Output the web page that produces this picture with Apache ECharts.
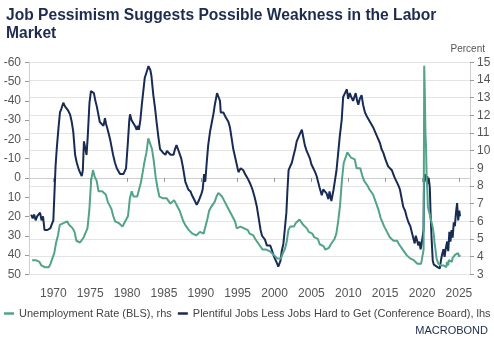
<!DOCTYPE html>
<html><head><meta charset="utf-8">
<script src="https://cdn.jsdelivr.net/npm/echarts@6/dist/echarts.min.js"></script>
<style>html,body{margin:0;padding:0;background:#fff}#c{width:494px;height:342px}</style>
</head><body><div id="c"></div>
<script>
// Tick labels
const yearTicks = [1970,1975,1980,1985,1990,1995,2000,2005,2010,2015,2020,2025];
// Unemployment rate (BLS), %, quarterly 1967Q1..2019Q4
const unempQuarterly = [
3.8,3.8,3.8,3.9, 3.7,3.5,3.5,3.4, 3.4,3.4,3.6,3.6, 4.2,4.8,5.2,5.8,
5.9,5.9,6.0,6.0, 5.8,5.7,5.6,5.4, 4.9,4.9,4.8,4.8, 5.1,5.2,5.6,6.6,
8.3,8.9,8.5,8.3, 7.7,7.6,7.7,7.8, 7.5,7.1,6.9,6.7, 6.3,6.0,6.0,5.9,
5.9,5.7,5.9,6.0, 6.3,7.3,7.7,7.4, 7.4,7.4,7.4,8.2, 8.8,9.4,9.9,10.7,
10.4,10.1,9.4,8.5, 7.9,7.4,7.4,7.3, 7.3,7.3,7.2,7.0, 7.0,7.2,7.0,6.8,
6.6,6.3,6.0,5.8, 5.7,5.5,5.5,5.3, 5.2,5.2,5.3,5.4, 5.3,5.3,5.7,6.1,
6.6,6.8,6.9,7.1, 7.4,7.6,7.6,7.4, 7.2,7.1,6.8,6.6, 6.6,6.2,6.0,5.6,
5.5,5.7,5.7,5.6, 5.5,5.5,5.3,5.3, 5.2,5.0,4.9,4.7, 4.6,4.4,4.5,4.4,
4.3,4.3,4.2,4.1, 4.0,3.9,4.0,3.9, 4.2,4.4,4.8,5.5, 5.7,5.8,5.7,5.9,
5.9,6.1,6.1,5.8, 5.7,5.6,5.4,5.4, 5.3,5.1,5.0,5.0, 4.7,4.6,4.6,4.4,
4.5,4.5,4.7,4.8, 5.0,5.3,6.0,6.9, 8.3,9.3,9.6,9.9, 9.8,9.6,9.5,9.5,
9.0,9.1,9.0,8.6, 8.3,8.2,8.0,7.8, 7.7,7.5,7.2,6.9, 6.6,6.2,6.1,5.7,
5.5,5.4,5.1,5.0, 4.9,4.9,4.9,4.7, 4.6,4.4,4.3,4.1, 4.0,3.9,3.8,3.8,
3.9,3.6,3.6,3.6
];
// Unemployment rate, monthly 2020-01 onwards
const unempMonthly = [
3.6,3.5,4.4,14.8,13.2,11.0,10.2,8.4,7.8,6.8,6.7,6.7,
6.4,6.2,6.1,6.1,5.8,5.9,5.4,5.1,4.7,4.5,4.2,3.9,
4.0,3.8,3.6,3.7,3.6,3.6,3.5,3.6,3.5,3.6,3.6,3.5,
3.5,3.6,3.5,3.4,3.7,3.6,3.5,3.8,3.8,3.9,3.7,3.7,
3.7,3.9,3.9,3.9,4.0,4.1,4.2,4.2,4.1,4.1,4.2,4.1,
4.0,4.1
];
// Plentiful jobs less jobs hard to get (Conference Board)
const diffYears = [
1967.0,1967.2,1967.4,1967.6,1967.8,1968.0,1968.2,1968.4,1968.6,1968.8,1969.0,1969.2,1969.4,1969.6,1969.8,
1970.0,1970.15,1970.3,1970.46,1970.7,1970.9,1971.1,1971.35,1971.6,1971.8,1972.0,1972.26,1972.5,1972.7,1972.95,
1973.17,1973.4,1973.6,1973.85,1974.0,1974.15,1974.3,1974.5,1974.66,1974.9,1975.1,1975.3,1975.5,1975.7,1975.9,
1976.1,1976.3,1976.55,1976.8,1977.0,1977.15,1977.3,1977.5,1977.7,1977.9,1978.1,1978.35,1978.6,1978.8,1979.04,
1979.3,1979.5,1979.7,1979.86,1980.1,1980.3,1980.4,1980.6,1980.85,1981.08,1981.3,1981.45,1981.6,1981.8,1982.0,
1982.2,1982.4,1982.65,1982.9,1983.0,1983.15,1983.3,1983.56,1983.8,1984.0,1984.25,1984.47,1984.7,1984.9,1985.2,
1985.4,1985.6,1985.9,1986.1,1986.3,1986.5,1986.7,1986.9,1987.1,1987.35,1987.6,1987.9,1988.1,1988.3,1988.6,
1988.8,1989.0,1989.2,1989.44,1989.7,1989.9,1990.1,1990.25,1990.45,1990.6,1990.8,1991.0,1991.25,1991.5,1991.7,
1991.9,1992.2,1992.4,1992.6,1992.7,1993.05,1993.3,1993.5,1993.75,1993.96,1994.2,1994.4,1994.75,1995.1,1995.4,
1995.76,1996.0,1996.2,1996.45,1996.7,1997.0,1997.3,1997.6,1997.85,1998.1,1998.3,1998.5,1998.7,1998.95,1999.2,
1999.4,1999.6,1999.85,2000.06,2000.3,2000.5,2000.65,2000.8,2000.97,2001.2,2001.4,2001.6,2001.75,2001.9,2002.1,
2002.35,2002.6,2002.8,2003.0,2003.2,2003.45,2003.7,2003.9,2004.1,2004.35,2004.6,2004.8,2005.0,2005.25,2005.5,
2005.7,2005.9,2006.1,2006.4,2006.6,2006.8,2007.05,2007.3,2007.45,2007.7,2007.85,2008.0,2008.2,2008.4,2008.6,
2008.85,2009.1,2009.3,2009.55,2009.8,2009.98,2010.2,2010.4,2010.65,2010.85,2011.0,2011.2,2011.35,2011.55,2011.8,
2012.0,2012.26,2012.5,2012.7,2012.95,2013.2,2013.4,2013.6,2013.85,2014.1,2014.3,2014.5,2014.75,2015.0,2015.2,
2015.4,2015.65,2015.9,2016.1,2016.3,2016.55,2016.8,2017.0,2017.2,2017.45,2017.7,2017.9,2018.15,2018.4,2018.6,
2018.8,2019.0,2019.15,2019.3,2019.5,2019.65,2019.8,2019.95,2020.1,2020.2,2020.28,2020.4,2020.5,2020.6,2020.7,
2020.8,2020.9,2021.05,2021.15,2021.3,2021.45,2021.6,2021.8,2022.0,2022.2,2022.4,2022.55,2022.7,2022.9,2023.05,
2023.2,2023.4,2023.55,2023.7,2023.85,2024.0,2024.15,2024.3,2024.45,2024.6,2024.75,2024.9,2025.05,2025.15
];
const diffValues = [
19,21,19,22,20,21,18,22,20,27,28,27,28,26,24,
22,8,-6,-15,-26,-34,-36,-39,-37,-36,-35,-33,-29,-24,-12,
-8,-5,-3,-1,-4,-19,-16,-12,-21,-39,-45,-46,-44,-40,-37,
-33,-29,-28,-27,-31,-28,-26,-23,-20,-16,-12,-8,-5,-4,-2,
-1,-2,-1,-5,-18,-30,-33,-30,-31,-27,-25,-27,-25,-30,-38,
-45,-52,-55,-58,-58,-56,-53,-43,-36,-29,-21,-15,-14,-13,-12,
-14,-13,-12,-13,-12,-15,-17,-15,-14,-10,-5,2,4,6,7,
9,10,12,14,12,11,8,6,-2,2,-8,-17,-24,-29,-33,
-38,-44,-42,-40,-34,-34,-32,-32,-29,-26,-20,-15,-9,-3,-5,
-4,-2,-1,1,3,6,10,15,21,27,30,31,32,35,36,
35,37,40,42,44,46,47,43,38,34,26,18,6,-4,-5,
-8,-12,-15,-19,-20,-23,-25,-21,-17,-14,-13,-10,-7,-5,-3,
-1,2,5,9,6,5,8,11,7,12,9,6,1,-4,-12,
-22,-30,-42,-44,-46,-41,-44,-42,-40,-41,-44,-40,-38,-41,-43,
-38,-34,-32,-31,-29,-28,-26,-25,-22,-21,-18,-15,-13,-10,-8,
-6,-5,-4,-2,0,1,4,6,10,15,17,20,23,25,28,
31,34,30,30,35,33,37,34,33,27,-2,1,-2,2,-1,
3,0,5,18,32,43,45,44,46,45,47,43,40,37,41,
37,33,38,28,33,27,31,23,25,18,13,22,17,20
];

const unempData = [];
unempQuarterly.forEach((v,i)=>unempData.push([1967 + Math.floor(i/4) + ((i%4)+0.5)/4, v]));
unempMonthly.forEach((v,i)=>unempData.push([2020 + Math.floor(i/12) + ((i%12)+0.5)/12, v]));
const diffData = diffYears.map((y,i)=>[y, diffValues[i]]);

const TEAL = '#52a38a', NAVY = '#172b55';
const FONT = 'Liberation Sans, Arial, sans-serif';
const chart = echarts.init(document.getElementById('c'), null, {renderer:'canvas'});
chart.setOption({
  animation:false,
  textStyle:{fontFamily:FONT},
  grid:{left:29, right:24, top:62.3, height:212},
  graphic:[
    {type:'text', left:6, top:6, style:{text:'Job Pessimism Suggests Possible Weakness in the Labor\nMarket', font:'bold 15.6px '+FONT, fill:'#1c2b4f', lineHeight:18.5}},
    {type:'text', right:9, top:44, style:{text:'Percent', font:'10px '+FONT, fill:'#555'}},
    {type:'text', right:6, top:325, style:{text:'MACROBOND', font:'11px '+FONT, fill:'#1c2b4f'}}
  ],
  legend:{
    left:4, top:308, width:490, itemGap:6, itemWidth:10, itemHeight:2.5, padding:[0,0,0,0],
    textStyle:{fontSize:11, color:'#444', fontFamily:FONT},
    data:[{name:'Unemployment Rate (BLS), rhs', icon:'rect'},{name:'Plentiful Jobs Less Jobs Hard to Get (Conference Board), lhs', icon:'rect'}]
  },
  xAxis:{
    type:'value', min:1966.7, max:2026.5, offset:7,
    axisLine:{lineStyle:{color:'#cfcfcf'}},
    axisTick:{show:true, length:4, lineStyle:{color:'#999'}, customValues:yearTicks},
    axisLabel:{color:'#555', fontSize:12, margin:6, customValues:yearTicks, formatter:v=>String(v)},
    splitLine:{show:false}
  },
  yAxis:[
    {type:'value', position:'left', inverse:true, min:-60, max:50, interval:10,
     axisLine:{show:true, lineStyle:{color:'#cfcfcf'}},
     axisTick:{show:true, length:4, lineStyle:{color:'#999'}},
     axisLabel:{color:'#555', fontSize:12, margin:8},
     splitLine:{show:false}},
    {type:'value', position:'right', min:3, max:15, interval:1,
     axisLine:{show:true, lineStyle:{color:'#cfcfcf'}},
     axisTick:{show:true, length:4, lineStyle:{color:'#999'}},
     axisLabel:{color:'#555', fontSize:12, margin:7},
     splitLine:{show:true, lineStyle:{color:'#e4e4e4'}}}
  ],
  series:[
    {name:'Unemployment Rate (BLS), rhs', type:'line', yAxisIndex:1, data:unempData, showSymbol:false, z:3,
     lineStyle:{color:TEAL, width:2}, itemStyle:{color:TEAL}},
    {name:'Plentiful Jobs Less Jobs Hard to Get (Conference Board), lhs', type:'line', yAxisIndex:0, data:diffData, showSymbol:false, z:2,
     lineStyle:{color:NAVY, width:2}, itemStyle:{color:NAVY}}
  ]
});
</script></body></html>
